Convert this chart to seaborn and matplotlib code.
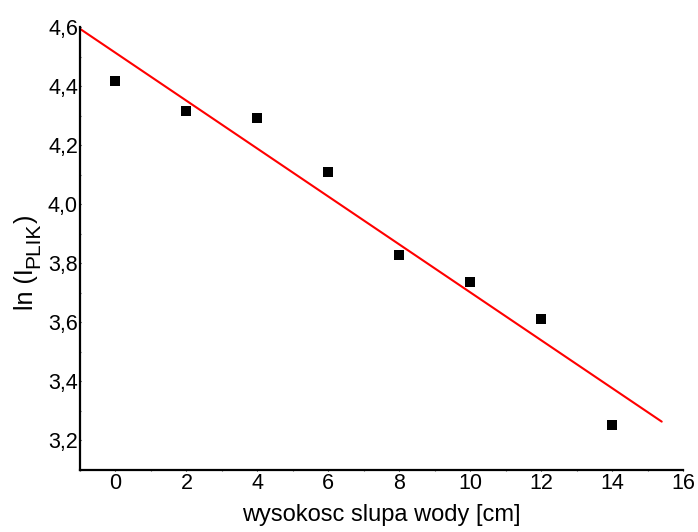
import numpy as np
import pandas as pd
import matplotlib
matplotlib.use("Agg")
import matplotlib.pyplot as plt
import seaborn as sns
from matplotlib.ticker import FuncFormatter, MultipleLocator

# data
height_cm = [0, 2, 4, 6, 8, 10, 12, 14]
ln_I = [4.418, 4.316, 4.291, 4.108, 3.827, 3.736, 3.610, 3.254]
fit_x_range = [-1.0, 15.4]
x_ticks = [0, 2, 4, 6, 8, 10, 12, 14, 16]
y_ticks = [3.2, 3.4, 3.6, 3.8, 4.0, 4.2, 4.4, 4.6]
x_label = "wysokosc slupa wody [cm]"
y_label_parts = ["ln (I", "PLIK", ")"]

sns.set_theme(style="white")
plt.rcParams['font.family'] = ['Liberation Sans', 'DejaVu Sans']

df = pd.DataFrame({"x": height_cm, "y": ln_I})
slope, intercept = np.polyfit(df["x"], df["y"], 1)
fx = np.array(fit_x_range)
fit_df = pd.DataFrame({"x": fx, "y": intercept + slope * fx})

W, H = 698, 532
fig = plt.figure(figsize=(W / 100, H / 100), dpi=100)
ax = fig.add_axes([80 / W, 62 / H, 603 / W, 443 / H])

sns.lineplot(data=fit_df, x="x", y="y", ax=ax, color="#ff0000", linewidth=1.5)
sns.scatterplot(data=df, x="x", y="y", ax=ax, marker="s", s=55, color="black",
                edgecolor="black", linewidth=0, zorder=3)

ax.set_xlim(-1, 16)
ax.set_ylim(3.1, 4.6)
ax.set_xticks(x_ticks)
ax.set_yticks(y_ticks)
ax.xaxis.set_minor_locator(MultipleLocator(1))
ax.yaxis.set_minor_locator(MultipleLocator(0.1))
ax.yaxis.set_major_formatter(FuncFormatter(lambda v, p: f"{v:.1f}".replace('.', ',')))
ax.xaxis.set_major_formatter(FuncFormatter(lambda v, p: f"{v:.0f}"))

for s in ["top", "right"]:
    ax.spines[s].set_visible(False)
for s in ["left", "bottom"]:
    ax.spines[s].set_color("black")
    ax.spines[s].set_linewidth(1.6)

ax.tick_params(axis="both", which="major", length=2, width=0.8, direction="inout",
               labelsize=15.5, colors="black")
ax.tick_params(axis="y", which="major", pad=0.5)
ax.tick_params(axis="x", which="major", pad=1.5)
ax.tick_params(axis="both", which="both", bottom=True, left=True)
ax.tick_params(axis="both", which="minor", length=2, width=0.8, direction="inout",
               color="#555555")

ax.set_xlabel(x_label, fontsize=17, color="black", labelpad=7)
ax.set_ylabel("")

# y label composed of main text + large subscript + closing paren (rotated)
fig.canvas.draw()
renderer = fig.canvas.get_renderer()
main_size, sub_size = 18.0, 15.0
base_x = 33.0          # baseline position (px from left)
sub_shift = 6.0        # subscript lowered (to the right when rotated)
center_y = H - 262     # px from bottom

texts = []
sizes = [main_size, sub_size, main_size]
shifts = [0.0, sub_shift, 0.0]
for part, size, sh in zip(y_label_parts, sizes, shifts):
    t = fig.text(0, 0, part, rotation=90, rotation_mode="anchor", ha="left",
                 va="baseline", fontsize=size, color="black")
    texts.append((t, sh))

lengths = []
for t, sh in texts:
    ext = t.get_window_extent(renderer)
    lengths.append(ext.height)
total = sum(lengths)
y = center_y - total / 2
for (t, sh), L in zip(texts, lengths):
    t.set_position(((base_x + sh) / W, y / H))
    y += L

fig.savefig("out.png", dpi=100)
